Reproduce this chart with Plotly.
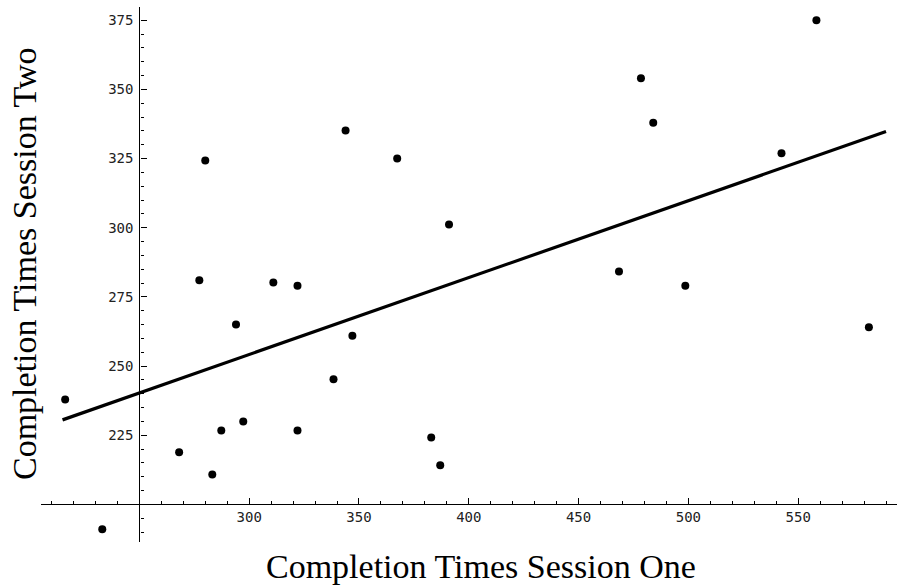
import numpy as np
import plotly.graph_objects as go

# Data
session_one = [216.2, 233.1, 268.1, 283.2, 287.3, 297.3, 277.3, 280.0, 294.0, 311.0,
               322.0, 322.0, 338.4, 343.9, 347.0, 367.4, 382.9, 387.0, 391.0, 468.4,
               478.4, 484.0, 498.6, 542.4, 558.3, 582.2]
session_two = [237.9, 191.0, 218.8, 210.8, 226.7, 230.0, 281.0, 324.3, 265.0, 280.2,
               279.0, 226.7, 245.2, 335.2, 261.0, 325.0, 224.2, 214.1, 301.2, 284.2,
               354.0, 338.0, 279.0, 326.9, 375.0, 264.0]
fit_span = [215, 590]

x_major = [300, 350, 400, 450, 500, 550]
y_major = [225, 250, 275, 300, 325, 350, 375]
x_minor = [v for v in range(210, 600, 10) if v not in x_major and v != 250]
y_minor = [v for v in range(190, 380, 5) if v not in y_major and v != 200]

x_title = "Completion Times Session One"
y_title = "Completion Times Session Two"

# Least-squares fit
slope, intercept = np.polyfit(session_one, session_two, 1)
fit_x = np.array(fit_span, dtype=float)
fit_y = slope * fit_x + intercept

x_range = [205.2, 595.0]
y_range = [186.4, 379.8]
origin = (250, 200)

fig = go.Figure()
fig.add_trace(go.Scatter(x=fit_x, y=fit_y, mode="lines",
                         line=dict(color="black", width=3.2), showlegend=False,
                         hoverinfo="skip"))
fig.add_trace(go.Scatter(x=session_one, y=session_two, mode="markers",
                         marker=dict(color="black", size=8), showlegend=False))

tick_font = dict(family="DejaVu Sans Mono", size=14, color="#222")

fig.update_layout(
    width=897, height=587,
    margin=dict(l=41, r=0, t=7, b=45),
    paper_bgcolor="white", plot_bgcolor="white",
    xaxis=dict(
        range=x_range, anchor="free",
        position=(origin[1] - y_range[0]) / (y_range[1] - y_range[0]),
        showgrid=False, zeroline=False, showline=True, linecolor="black", linewidth=1.3,
        ticks="inside", ticklen=6, tickwidth=1, tickcolor="black",
        tickvals=x_major, ticktext=[str(v) for v in x_major],
        tickfont=tick_font,
        minor=dict(tickvals=x_minor, ticks="inside", ticklen=3, tickcolor="black", tickwidth=1),
    ),
    yaxis=dict(
        range=y_range, anchor="free",
        position=(origin[0] - x_range[0]) / (x_range[1] - x_range[0]),
        showgrid=False, zeroline=False, showline=True, linecolor="black", linewidth=1.3,
        ticks="inside", ticklen=6, tickwidth=1, tickcolor="black",
        tickvals=y_major, ticktext=[str(v) for v in y_major],
        tickfont=tick_font, ticklabelstandoff=3,
        minor=dict(tickvals=y_minor, ticks="inside", ticklen=3, tickcolor="black", tickwidth=1),
    ),
    annotations=[
        dict(text=x_title, xref="paper", yref="paper", x=(481 - 41) / 856,
             y=-(566 - 542) / 535, xanchor="center", yanchor="middle", showarrow=False,
             font=dict(family="Liberation Serif", size=34, color="black")),
        dict(text=y_title, xref="paper", yref="paper", x=-(41 - 24) / 856,
             y=(542 - 264) / 535, xanchor="center", yanchor="middle", showarrow=False,
             textangle=-90,
             font=dict(family="Liberation Serif", size=34, color="black")),
    ],
)

fig.write_html("out.html")
